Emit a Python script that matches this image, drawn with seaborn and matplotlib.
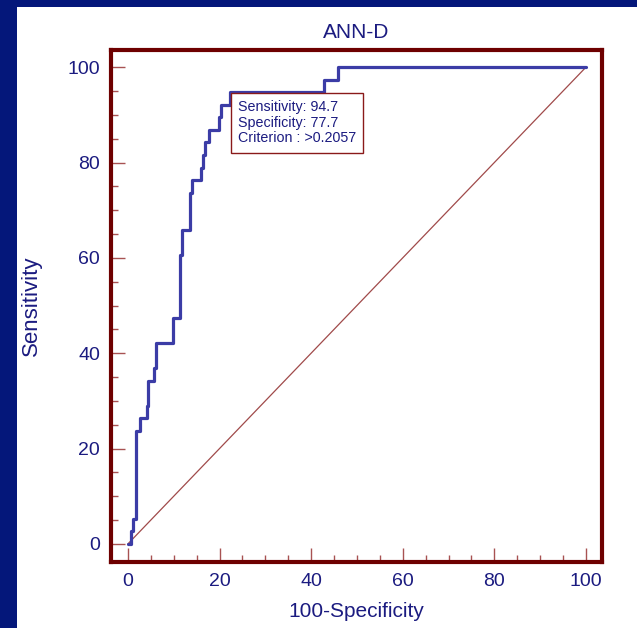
import matplotlib
matplotlib.use("Agg")
import matplotlib.pyplot as plt
from matplotlib.patches import Rectangle
from matplotlib.ticker import MultipleLocator
import seaborn as sns
import pandas as pd

# ---- data ----
fpr = [0, 0.65, 1.2, 1.75, 2.6, 4.1, 4.4, 5.75, 6.1, 9.9, 11.35, 11.8, 13.5,
       14.0, 15.9, 16.4, 16.9, 17.6, 19.9, 20.3, 22.3, 42.9, 45.8, 100]
tpr = [0, 2.6, 5.3, 23.7, 26.3, 28.9, 34.2, 36.8, 42.1, 47.4, 60.5, 65.8, 73.7,
       76.3, 78.9, 81.6, 84.2, 86.8, 89.5, 92.1, 94.7, 97.4, 100, 100]
diag_x = [0, 100]
diag_y = [0, 100]
ticks = [0, 20, 40, 60, 80, 100]
best_point = (22.3, 94.7)
best_text = ["Sensitivity: 94.7", "Specificity: 77.7", "Criterion : >0.2057"]
title = "ANN-D"
xlabel = "100-Specificity"
ylabel = "Sensitivity"

# ---- styles ----
NAVY_BG = "#04177a"
TXT = "#1b1b80"
CURVE = "#3b3ca6"
SPINE = "#6e0000"
TICKC = "#a85252"
DIAG = "#a04a4a"

sns.set_theme(style="white")
plt.rcParams["font.family"] = ["Liberation Sans", "DejaVu Sans"]

fig = plt.figure(figsize=(6.37, 6.28), dpi=100)
fig.patch.set_facecolor("white")
# navy frame bands (top and left)
fig.patches.append(Rectangle((0, 1 - 7 / 628), 1, 7 / 628, transform=fig.transFigure,
                             facecolor=NAVY_BG, edgecolor="none", zorder=0))
fig.patches.append(Rectangle((0, 0), 17 / 637, 1, transform=fig.transFigure,
                             facecolor=NAVY_BG, edgecolor="none", zorder=0))

ax = fig.add_axes([111 / 637, (628 - 561.5) / 628, (602 - 111) / 637, (561.5 - 50) / 628])

df_roc = pd.DataFrame({"fpr": fpr, "tpr": tpr})
df_diag = pd.DataFrame({"x": diag_x, "y": diag_y})

sns.lineplot(data=df_diag, x="x", y="y", ax=ax, color=DIAG, linewidth=0.9, zorder=2)
sns.lineplot(data=df_roc, x="fpr", y="tpr", ax=ax, color=CURVE, linewidth=2.3,
             drawstyle="steps-post", zorder=3)

ax.set_xlim(-3.7, 103.5)
ax.set_ylim(-3.7, 103.6)
ax.set_xticks(ticks)
ax.set_yticks(ticks)
ax.set_xticklabels([str(t) for t in ticks])
ax.set_yticklabels([str(t) for t in ticks])
ax.xaxis.set_minor_locator(MultipleLocator(5))
ax.yaxis.set_minor_locator(MultipleLocator(5))
ax.tick_params(which="major", direction="in", length=10, width=1.0, color=TICKC,
               labelsize=14, labelcolor=TXT, pad=8, bottom=True, left=True,
               top=False, right=False)
ax.tick_params(which="minor", direction="in", length=5, width=1.0, color=TICKC,
               bottom=True, left=True, top=False, right=False)

for s in ax.spines.values():
    s.set_color(SPINE)
    s.set_linewidth(3)
    s.set_visible(True)

ax.set_xlabel(xlabel, fontsize=15, color=TXT, labelpad=9)
ax.set_ylabel(ylabel, fontsize=16, color=TXT)
ax.yaxis.set_label_coords(-0.14, 0.5)
ax.set_title(title, fontsize=15, color=TXT, pad=9)
ax.grid(False)

ax.annotate("\n".join(best_text), xy=best_point, xytext=(5.5, -5.5),
            textcoords="offset points", ha="left", va="top",
            fontsize=10.3, color=TXT, linespacing=1.15, zorder=5,
            bbox=dict(boxstyle="square,pad=0.5", facecolor="white",
                      edgecolor="#8a1a1a", linewidth=1.0))

fig.savefig("out.png", dpi=100, facecolor="white")
